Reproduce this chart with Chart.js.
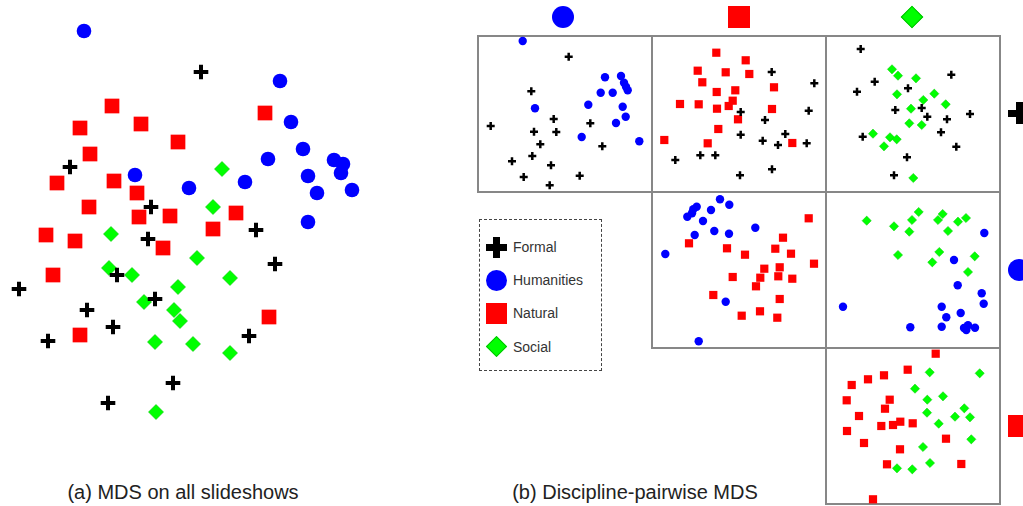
<!DOCTYPE html>
<html><head><meta charset="utf-8">
<script src="https://cdn.jsdelivr.net/npm/chart.js@4.4.0/dist/chart.umd.min.js"></script>
<style>
html,body{margin:0;padding:0;background:#fff;overflow:hidden;width:1023px;height:506px;font-family:"Liberation Sans",Arial,sans-serif;}
canvas{position:absolute;}
.cell{position:absolute;box-sizing:border-box;border:2px solid #878787;}
.ic{position:absolute;}
.circ{border-radius:50%;background:#0000ff;}
.sq{background:#ff0000;}
.dia{background:#00ff00;border:1px solid #00c000;box-sizing:border-box;transform:rotate(45deg);}
.bar{position:absolute;background:#000;}
.lt{position:absolute;font-size:14px;line-height:16px;color:#333;white-space:nowrap;}
.cap{position:absolute;font-size:20px;line-height:22px;color:#222;white-space:nowrap;transform:translateX(-50%);}
#legbox{position:absolute;left:479px;top:219px;width:123px;height:152px;box-sizing:border-box;border:1px dashed #444;}
</style></head><body>
<canvas id="left" width="370" height="440" style="left:0;top:0"></canvas>

<div class="cell" style="left:477px;top:35px;width:176px;height:158px"></div>
<div class="cell" style="left:651px;top:35px;width:176px;height:158px"></div>
<div class="cell" style="left:825px;top:35px;width:176px;height:158px"></div>
<div class="cell" style="left:651px;top:191px;width:176px;height:158px"></div>
<div class="cell" style="left:825px;top:191px;width:176px;height:158px"></div>
<div class="cell" style="left:825px;top:347px;width:176px;height:158px"></div>

<canvas id="p1" width="174" height="156" style="left:478px;top:36px"></canvas>
<canvas id="p2" width="174" height="156" style="left:652px;top:36px"></canvas>
<canvas id="p3" width="174" height="156" style="left:826px;top:36px"></canvas>
<canvas id="p4" width="174" height="156" style="left:652px;top:192px"></canvas>
<canvas id="p5" width="174" height="156" style="left:826px;top:192px"></canvas>
<canvas id="p6" width="174" height="156" style="left:826px;top:348px"></canvas>

<!-- column headers -->
<div class="ic circ" style="left:552px;top:6px;width:22px;height:22px"></div>
<div class="ic sq" style="left:728px;top:6px;width:22px;height:22px"></div>
<div class="ic dia" style="left:904px;top:9px;width:16px;height:16px"></div>
<!-- row headers -->
<div class="ic" style="left:1008px;top:102px;width:22px;height:22px"><div class="bar" style="left:0;top:7.5px;width:22px;height:7px"></div><div class="bar" style="left:7.5px;top:0;width:7px;height:22px"></div></div>
<div class="ic circ" style="left:1008px;top:259px;width:22px;height:22px"></div>
<div class="ic sq" style="left:1008px;top:415px;width:22px;height:22px"></div>

<!-- legend -->
<div id="legbox"></div>
<div class="ic" style="left:485.5px;top:236.5px;width:21px;height:21px"><div class="bar" style="left:0;top:7px;width:21px;height:7px"></div><div class="bar" style="left:7px;top:0;width:7px;height:21px"></div></div>
<div class="ic circ" style="left:485.5px;top:269.5px;width:21px;height:21px"></div>
<div class="ic sq" style="left:485.5px;top:302.5px;width:21px;height:21px"></div>
<div class="ic dia" style="left:488.5px;top:339px;width:15px;height:15px"></div>
<div class="lt" style="left:513px;top:239px">Formal</div>
<div class="lt" style="left:513px;top:272px">Humanities</div>
<div class="lt" style="left:513px;top:305px">Natural</div>
<div class="lt" style="left:513px;top:339px">Social</div>

<div class="cap" style="left:183px;top:481px">(a) MDS on all slideshows</div>
<div class="cap" style="left:635px;top:481px">(b) Discipline-pairwise MDS</div>

<script>
// (a) MDS on all slideshows
const leftFormal = [[201,72],[70,167],[151,207],[256,230],[148,239],[275,264],[117,275],[19,289],[155,299],[87,310],[113,327],[48,341],[249,336],[173,383],[108,403]];
const leftHumanities = [[84,31],[280,81],[291,122],[303,149],[268,159],[334,160],[343,164],[341,173],[308,176],[135,175],[189,188],[245,182],[317,193],[352,190],[308,222]];
const leftNatural = [[112,106],[80,128],[141,124],[178,142],[265,113],[90,154],[57,183],[114,181],[137,193],[89,207],[139,217],[170,216],[236,213],[213,229],[46,235],[75,241],[163,248],[53,275],[269,317],[80,335]];
const leftSocial = [[222,169],[213,207],[111,234],[197,258],[109,268],[132,275],[230,278],[178,287],[144,302],[174,310],[180,321],[155,342],[193,344],[230,353],[156,412]];

// (b) pairwise panels
const p1Formal = [[90.7,20.7],[53.3,55.3],[12.7,90],[75.7,83],[56,95.7],[78.3,96],[112.3,87.3],[62.3,108.3],[124.3,110.3],[54.3,120],[34,125.3],[73,129.3],[45.7,141],[101.7,139.7],[71.7,149.3]];
const p1Humanities = [[44.7,5],[127,41.3],[143,40],[146,46.7],[148,50.7],[149.7,54.3],[122.7,56.7],[134.7,56.7],[57,72.3],[110.3,68.7],[144.7,70.7],[147.7,80.7],[138,87],[103.7,101],[161.3,105.3]];
const p2Formal = [[119.7,36],[162.3,47.3],[88.7,76],[156.7,74.7],[113,84],[88.7,98.7],[133.3,98],[110.7,104.7],[126,109],[154.7,107.3],[48.3,119.3],[63.3,119.3],[23.3,124],[120,133.3],[88,139.3]];
const p2Natural = [[64.3,16.7],[93.7,24.3],[45.7,34.7],[73.7,36.3],[97.3,38],[50.3,46.3],[122,51.3],[64.7,56],[83.3,54.3],[80.7,64.7],[28,68],[46.7,68.3],[65,72.7],[76.7,70],[120,73],[86,83.3],[66.3,93],[12.3,104],[55.7,107.3],[140.3,107]];
const p3Formal = [[34.7,13],[125.3,38.7],[48.7,45.7],[31,55.7],[82,52.3],[69.3,74],[95.7,72],[101.3,80.7],[121,83.3],[144,78],[115,96.3],[36.7,100.7],[130.3,110.7],[81,121.3],[68,139.3]];
const p3Social = [[66,33.3],[72,39.7],[90,42.3],[71,58.3],[108.3,57.7],[97.3,64],[119.7,68.3],[85,72.7],[83.3,87.3],[95.7,89],[47,97.7],[64,101.3],[70.7,103.3],[58,110.3],[87.3,142]];
const p4Humanities = [[68,7.3],[77.3,12.7],[44.7,14.7],[41.3,17.3],[59,18],[40,21.3],[35.3,24.7],[51,29],[62.3,39],[77,41.7],[42.7,43],[103.3,35.7],[13.3,62],[73.7,109.7],[46.7,149.3]];
const p4Natural = [[156.7,26.3],[131,45.7],[37,51.3],[75,56.3],[123.3,56.7],[93,62.7],[139,61.7],[162,71.7],[112.3,76.7],[127.7,75.3],[80.7,85],[108.3,85.7],[126.3,84.3],[140.3,86.7],[104,94.3],[61.3,103],[127.7,107],[89.7,123.7],[108,119.3],[125.3,125.7]];
const p5Humanities = [[158.3,41],[128,68],[131.7,93.3],[155.7,101.3],[157.7,111.7],[17,114.7],[115.7,114.7],[134.7,121],[120.3,125.3],[84.3,135.3],[115.7,134.7],[138,136],[142,133.3],[140.3,138],[149,135.7]];
const p5Social = [[40.7,28.7],[92.7,20],[86,28],[68,34.3],[83.3,39.7],[116.7,22],[112,28],[132,29.7],[140,26],[122,39],[72,63],[113.3,60],[106.3,70.3],[148.7,64.3],[142,80]];
const p6Natural = [[109.7,5.7],[81.7,21.7],[58,27.3],[42,31.3],[25.7,37],[20.7,52.3],[63.7,51.7],[59,60.7],[33,68],[55.3,78],[67,77],[74.3,73.7],[86.7,75.3],[21,83],[38,95],[120,90.7],[74,101.3],[61,116.3],[135.3,116],[47,151.3]];
const p6Social = [[103.7,24.3],[153.7,25.3],[89,40.7],[101.3,51.7],[117,48.3],[138.3,60.3],[101,64.7],[129,68.7],[144,69.3],[112.7,75.7],[145.3,91.3],[97,99],[104,115],[71,120.3],[86.3,121.3]];

const STY = {
  Formal:     {ps:'cross',   fill:'#000000', stroke:'#000000', big:[7.3,4],  small:[4,2.5]},
  Humanities: {ps:'circle',  fill:'#0000ff', stroke:'#0000ff', big:[7.3,0],  small:[4.2,0]},
  Natural:    {ps:'rect',    fill:'#ff0000', stroke:'#ff0000', big:[10.4,0], small:[5.8,0]},
  Social:     {ps:'rectRot', fill:'#00ff00', stroke:'#00c800', big:[7.5,0.6],small:[4.6,0.5]}
};
const ORDER = ['Formal','Humanities','Natural','Social'];

function ds(kind, pts, big) {
  const s = STY[kind];
  const sz = big ? s.big : s.small;
  return {
    label: kind,
    data: pts.map(p => ({x:p[0], y:p[1]})),
    pointStyle: s.ps,
    pointRadius: sz[0],
    pointBorderWidth: sz[1],
    pointBackgroundColor: s.fill,
    pointBorderColor: s.stroke,
    clip: false,
    order: ORDER.indexOf(kind)
  };
}

function makeChart(id, w, h, sets) {
  return new Chart(document.getElementById(id), {
    type: 'scatter',
    data: {datasets: sets},
    options: {
      responsive: false, animation: false, events: [],
      layout: {padding: 0, autoPadding: false},
      plugins: {legend: {display: false}, tooltip: {enabled: false}},
      scales: {
        x: {type:'linear', display:false, min:0, max:w},
        y: {type:'linear', display:false, min:0, max:h, reverse:true}
      }
    }
  });
}

makeChart('left', 370, 440, [
  ds('Formal', leftFormal, true), ds('Humanities', leftHumanities, true),
  ds('Natural', leftNatural, true), ds('Social', leftSocial, true)
]);
makeChart('p1', 174, 156, [ds('Formal', p1Formal), ds('Humanities', p1Humanities)]);
makeChart('p2', 174, 156, [ds('Formal', p2Formal), ds('Natural', p2Natural)]);
makeChart('p3', 174, 156, [ds('Formal', p3Formal), ds('Social', p3Social)]);
makeChart('p4', 174, 156, [ds('Humanities', p4Humanities), ds('Natural', p4Natural)]);
makeChart('p5', 174, 156, [ds('Humanities', p5Humanities), ds('Social', p5Social)]);
makeChart('p6', 174, 156, [ds('Natural', p6Natural), ds('Social', p6Social)]);
</script>
</body></html>
